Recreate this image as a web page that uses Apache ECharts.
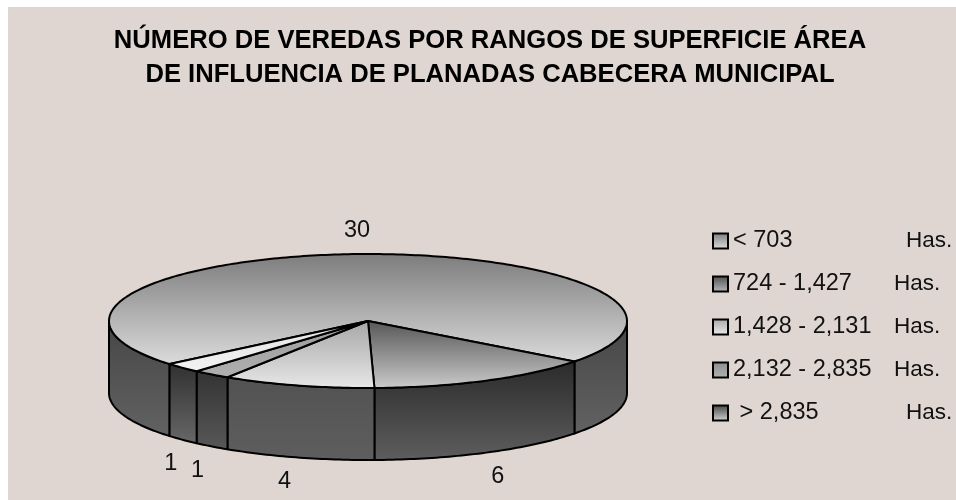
<!DOCTYPE html>
<html>
<head>
<meta charset="utf-8">
<style>html,body{margin:0;padding:0;background:#fff}#c{width:956px;height:500px}</style>
<script src="https://cdn.jsdelivr.net/npm/echarts@6/dist/echarts.min.js"></script>
</head>
<body>
<div id="c"></div>
<script>
var rangeLabels = ['< 703', '724 - 1,427', '1,428 - 2,131', '2,132 - 2,835', ' > 2,835'];
var veredas = [30, 6, 4, 1, 1];
var unit = 'Has.';
var titleText = 'NÚMERO DE VEREDAS POR RANGOS DE SUPERFICIE ÁREA\nDE INFLUENCIA DE PLANADAS CABECERA MUNICIPAL';

var topColors = [['#7c7c7c', '#dcdcdc'], ['#565656', '#cbcbcb'], ['#a6a6a6', '#e8e8e8'], ['#9a9a9a', '#b0b0b0'], ['#e4e4e4', '#f2f2f2']];
var sideColors = [['#464646', '#626262'], ['#2a2a2a', '#5e5e5e'], ['#525252', '#5e5e5e'], ['#333333', '#585858'], ['#303030', '#686868']];
var legendColors = [['#7a7a7a', '#e0e0e0'], ['#4c4c4c', '#bcbcbc'], ['#a8a8a8', '#ececec'], ['#8c8c8c', '#b4b4b4'], ['#404040', '#d8d8d8']];
var pie = {cx: 368, cy: 321, rx: 259, ry: 67, depth: 72, startDeg: 140};
var labelNudgeX = [-4, 1, -7, 0, 5];

function grad(c) {
  return {type: 'linear', x: 0, y: 0, x2: 0, y2: 1, colorStops: [{offset: 0, color: c[0]}, {offset: 1, color: c[1]}]};
}
var total = veredas.reduce(function (a, b) { return a + b; }, 0);
function rimPoint(deg, drop) {
  var t = deg * Math.PI / 180;
  return [pie.cx + pie.rx * Math.cos(t), pie.cy + pie.ry * Math.sin(t) + (drop || 0)];
}
function arcPoints(a, b, drop) {
  var pts = [], n = Math.max(2, Math.ceil(b - a));
  for (var i = 0; i <= n; i++) pts.push(rimPoint(a + (b - a) * i / n, drop));
  return pts;
}
function wall(a, b, color) {
  var upper = arcPoints(a, b, 0), lower = arcPoints(a, b, pie.depth).reverse();
  return {type: 'polygon', shape: {points: upper.concat(lower)},
    style: {fill: grad(color), stroke: '#000', lineWidth: 2, lineJoin: 'round'}};
}
function makeRender(index) {
  var before = veredas.slice(0, index).reduce(function (a, b) { return a + b; }, 0);
  return function (params, api) {
    var value = api.value(0);
    var a = pie.startDeg + before / total * 360;
    var b = a + value / total * 360;
    var kids = [];
    [[0, 180], [360, 540]].forEach(function (r) {
      var s = Math.max(a, r[0]), e = Math.min(b, r[1]);
      if (e > s) kids.push(wall(s, e, sideColors[index]));
    });
    kids.push({type: 'polygon', shape: {points: [[pie.cx, pie.cy]].concat(arcPoints(a, b, 0))},
      style: {fill: grad(topColors[index]), stroke: '#000', lineWidth: 2, lineJoin: 'round'}});
    var mid = (a + b) / 2, t = mid * Math.PI / 180;
    var front = Math.sin(t) > 0;
    kids.push({type: 'text', z2: 10, style: {
      text: String(value),
      x: pie.cx + pie.rx * Math.cos(t) * 1.09 + labelNudgeX[index],
      y: pie.cy + pie.ry * Math.sin(t) + (front ? pie.depth + 24 : -24),
      fill: '#111', font: '23.5px "Liberation Sans", Arial, sans-serif', align: 'center', verticalAlign: 'middle'}});
    return {type: 'group', children: kids};
  };
}

var fam = '"Liberation Sans", Arial, sans-serif';
var chart = echarts.init(document.getElementById('c'));
chart.setOption({
  animation: false,
  backgroundColor: '#fff',
  graphic: [{type: 'rect', z: -10, shape: {x: 8, y: 7, width: 948, height: 493}, style: {fill: '#dfd6d2'}}],
  title: {
    text: titleText, left: 485, top: 19, textAlign: 'center',
    textStyle: {fontFamily: fam, fontWeight: 'bold', fontSize: 25.6, lineHeight: 34, color: '#000'}
  },
  legend: {
    orient: 'vertical', left: 707, top: 224, itemWidth: 15, itemHeight: 15, itemGap: 19, icon: 'rect',
    data: rangeLabels,
    itemStyle: {borderColor: '#000', borderWidth: 2},
    formatter: function (name) {
      var short = name === rangeLabels[0] || name === rangeLabels[4];
      return '{' + (short ? 'w' : 'n') + '|' + name + '}{u|' + unit + '}';
    },
    textStyle: {
      color: '#111', fontFamily: fam, fontSize: 23.5,
      rich: {
        w: {width: 173, fontSize: 23.5, fontFamily: fam, color: '#111'},
        n: {width: 161, fontSize: 23.5, fontFamily: fam, color: '#111'},
        u: {fontSize: 22.5, fontFamily: fam, color: '#111'}
      }
    }
  },
  series: rangeLabels.map(function (name, i) {
    return {
      type: 'custom', name: name, coordinateSystem: 'none', silent: true,
      itemStyle: {color: grad(legendColors[i])},
      renderItem: makeRender(i),
      data: [[veredas[i]]]
    };
  })
});
</script>
</body>
</html>
